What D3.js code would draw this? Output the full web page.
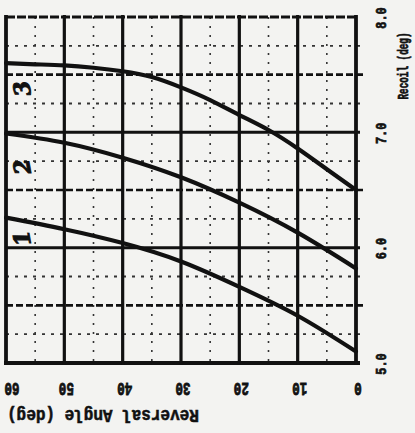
<!DOCTYPE html>
<html>
<head>
<meta charset="utf-8">
<script src="https://cdn.jsdelivr.net/npm/d3@7/dist/d3.min.js"></script>
<style>
  html, body { margin: 0; padding: 0; background: #f3f3f1; }
  svg { display: block; }
</style>
</head>
<body>
<script>
// ---- data ----
const angles1 = [60, 50, 40, 30, 20, 10, 0];
const curve1 = [6.26, 6.16, 6.04, 5.88, 5.66, 5.41, 5.10];
const angles2 = [60, 50, 40, 30, 20, 10, 0];
const curve2 = [6.99, 6.91, 6.78, 6.61, 6.39, 6.13, 5.82];
const angles3 = [60, 55, 50, 45, 40, 35, 30, 25, 20, 15, 10, 5, 0];
const curve3 = [7.60, 7.59, 7.58, 7.56, 7.53, 7.48, 7.39, 7.28, 7.15, 7.02, 6.86, 6.68, 6.50];
const curveNames = ["1", "2", "3"];
const xTicks = [60, 50, 40, 30, 20, 10, 0];
const yTicks = [5.0, 6.0, 7.0, 8.0];
const xTitle = "Reversal Angle (deg)";
const yTitle = "Recoil (deg)";

const W = 415, H = 433;
const svg = d3.select("body").append("svg").attr("width", W).attr("height", H);
svg.append("rect").attr("width", W).attr("height", H).attr("fill", "#f3f3f1");

const x = d3.scaleLinear().domain([60, 0]).range([6, 356]);
const y = d3.scaleLinear().domain([5, 8]).range([363, 17]);
const ink = "#111";

const g = svg.append("g");

// minor vertical dotted lines every 5 deg
d3.range(55, 0, -10).forEach(a => {
  g.append("line").attr("x1", x(a)).attr("x2", x(a)).attr("y1", y(8)).attr("y2", y(5))
    .attr("stroke", "#333").attr("stroke-width", 1.6).attr("stroke-dasharray", "2,7");
});
// quarter horizontal dotted lines
[5.25, 5.75, 6.25, 6.75, 7.25, 7.75].forEach(v => {
  g.append("line").attr("x1", x(60)).attr("x2", x(0) + 6).attr("y1", y(v)).attr("y2", y(v))
    .attr("stroke", "#333").attr("stroke-width", 1.8).attr("stroke-dasharray", "3,6");
});
// half horizontal heavy dashed lines
[5.5, 6.5, 7.5].forEach(v => {
  g.append("line").attr("x1", x(60)).attr("x2", x(0) + 8).attr("y1", y(v)).attr("y2", y(v))
    .attr("stroke", ink).attr("stroke-width", 2.6).attr("stroke-dasharray", "7,3");
});
// major horizontal solid lines
[6, 7].forEach(v => {
  g.append("line").attr("x1", x(60)).attr("x2", x(0) + 4).attr("y1", y(v)).attr("y2", y(v))
    .attr("stroke", ink).attr("stroke-width", 3);
});
// top border (dashed heavy) and bottom border
g.append("line").attr("x1", x(60)).attr("x2", x(0)).attr("y1", y(8)).attr("y2", y(8))
  .attr("stroke", ink).attr("stroke-width", 3).attr("stroke-dasharray", "9,2");
g.append("line").attr("x1", x(60) - 2).attr("x2", x(0) + 4).attr("y1", y(5)).attr("y2", y(5))
  .attr("stroke", ink).attr("stroke-width", 4);
// major vertical lines every 10 deg
xTicks.forEach(a => {
  g.append("line").attr("x1", x(a)).attr("x2", x(a)).attr("y1", y(8) - 2).attr("y2", y(5) + 2)
    .attr("stroke", ink).attr("stroke-width", a === 0 || a === 60 ? 3.8 : 3.2);
});

// curves
const line = d3.line().x(d => x(d[0])).y(d => y(d[1])).curve(d3.curveNatural);
[[angles1, curve1], [angles2, curve2], [angles3, curve3]].forEach(([as, c]) => {
  g.append("path").datum(as.map((a, i) => [a, c[i]]))
    .attr("d", line).attr("fill", "none").attr("stroke", ink).attr("stroke-width", 4.2)
    .attr("stroke-linecap", "round");
});

// curve labels (handwritten numerals)
const labelPos = [[57.3, 6.08], [57.3, 6.70], [57.3, 7.38]];
curveNames.forEach((n, i) => {
  g.append("text")
    .attr("transform", `translate(${x(labelPos[i][0])},${y(labelPos[i][1])}) rotate(-100)`)
    .attr("text-anchor", "middle").attr("dominant-baseline", "central")
    .attr("font-family", "DejaVu Serif").attr("font-weight", "bold").attr("font-style", "italic")
    .attr("font-size", 22).attr("fill", ink).attr("stroke", ink).attr("stroke-width", 1)
    .text(n);
});

// x tick labels (upside down)
xTicks.forEach(a => {
  const px = a === 60 ? x(a) + 6 : x(a) + 2;
  svg.append("text")
    .attr("transform", `translate(${px},388) rotate(180) scale(0.7,1.05)`)
    .attr("text-anchor", "middle").attr("dominant-baseline", "central")
    .attr("font-family", "Liberation Mono").attr("font-weight", "bold")
    .attr("font-size", 18).attr("fill", ink).attr("stroke", ink).attr("stroke-width", 0.8)
    .text(String(a));
});
// x title (upside down)
svg.append("text")
  .attr("transform", `translate(103,415) rotate(180) scale(1,1.1)`)
  .attr("text-anchor", "middle").attr("dominant-baseline", "central")
  .attr("font-family", "Liberation Mono").attr("font-weight", "bold")
  .attr("font-size", 16).attr("fill", ink).attr("stroke", ink).attr("stroke-width", 0.5)
  .text(xTitle);

// y tick labels (rotated -90)
yTicks.forEach(v => {
  svg.append("text")
    .attr("transform", `translate(382,${y(v) + 1}) rotate(-90) scale(0.85,1)`)
    .attr("text-anchor", "middle").attr("dominant-baseline", "central")
    .attr("font-family", "Liberation Mono").attr("font-weight", "bold")
    .attr("font-size", 14).attr("fill", ink).attr("stroke", ink).attr("stroke-width", 0.7)
    .text(v.toFixed(1));
});
// y title
svg.append("text")
  .attr("transform", `translate(404,66) rotate(-90) scale(0.62,1)`)
  .attr("text-anchor", "middle").attr("dominant-baseline", "central")
  .attr("font-family", "Liberation Mono").attr("font-weight", "bold")
  .attr("font-size", 15).attr("fill", ink).attr("stroke", ink).attr("stroke-width", 0.7)
  .text(yTitle);
</script>
</body>
</html>
